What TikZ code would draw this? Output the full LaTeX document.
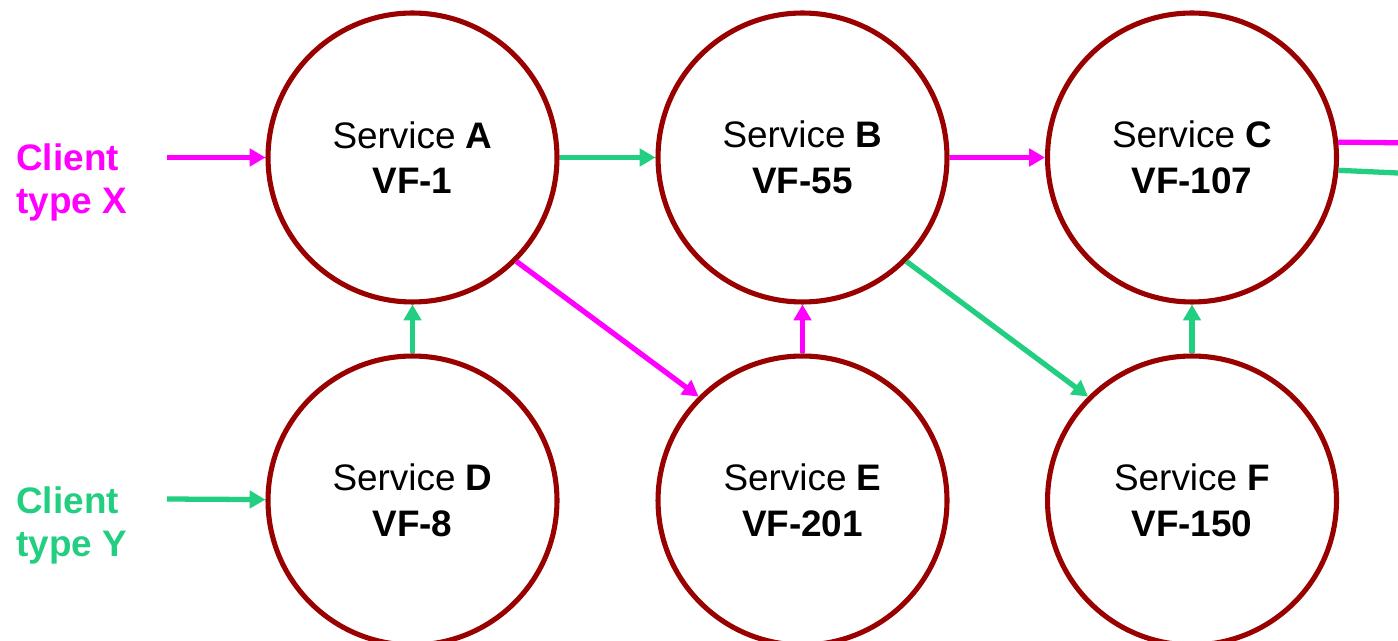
\documentclass[tikz,border=0pt]{standalone}
\usepackage{fontspec}
\setmainfont{Liberation Sans}
\usetikzlibrary{arrows.meta}
\definecolor{svcred}{RGB}{153,0,0}
\definecolor{flowpink}{RGB}{255,0,255}
\definecolor{flowgreen}{RGB}{34,206,128}
\tikzset{
  svc/.style={circle, draw=svcred, line width=2.9pt, minimum size=5.78cm,
    inner sep=0pt, align=center, font=\fontsize{21}{26}\selectfont},
  client/.style={anchor=west, inner sep=0pt, align=left,
    font=\bfseries\fontsize{21}{24}\selectfont},
  flow/.style={line width=3pt, -{Triangle[length=9pt,width=9.8pt]}},
  pinkflow/.style={flow, draw=flowpink, color=flowpink},
  greenflow/.style={flow, draw=flowgreen, color=flowgreen},
  exitline/.style={line width=3pt},
}
\begin{document}
\begin{tikzpicture}[x=0.02cm, y=-0.02cm]
  \useasboundingbox (0,0) rectangle (1398,641);
  \clip (0,0) rectangle (1398,641);

  % service nodes
  \node[svc] (A) at (412.5,157.5) {Service \textbf{A}\\\textbf{VF-1}};
  \node[svc] (B) at (802.5,157.5) {Service \textbf{B}\\\textbf{VF-55}};
  \node[svc] (C) at (1192,157.5) {Service \textbf{C}\\\textbf{VF-107}};
  \node[svc] (D) at (412.5,500.5) {Service \textbf{D}\\\textbf{VF-8}};
  \node[svc] (E) at (802.5,500.5) {Service \textbf{E}\\\textbf{VF-201}};
  \node[svc] (F) at (1192,500.5) {Service \textbf{F}\\\textbf{VF-150}};

  % client labels
  \node[client, text=flowpink] (X) at (16,182.5) {Client\\type X};
  \node[client, text=flowgreen] (Y) at (16,525.5) {Client\\type Y};

  % free ends of the connectors
  \coordinate (xin) at (167,157.5);
  \coordinate (yin) at (167,499);
  \coordinate (pout) at (1420,143);
  \coordinate (gout) at (1420,174);

  % requests
  \draw[pinkflow] (xin) -- (A);
  \draw[greenflow] (yin) -- (D);
  \draw[greenflow] (A) -- (B);
  \draw[pinkflow] (B) -- (C);
  \draw[greenflow] (D) -- (A);
  \draw[pinkflow] (E) -- (B);
  \draw[greenflow] (F) -- (C);
  \draw[pinkflow] (A.-45) -- (E.135);
  \draw[greenflow] (B.-45) -- (F.135);
  \draw[exitline, draw=flowpink] (C.6.4) -- (pout);
  \draw[exitline, draw=flowgreen] (C.-5.7) -- (gout);
\end{tikzpicture}
\end{document}
